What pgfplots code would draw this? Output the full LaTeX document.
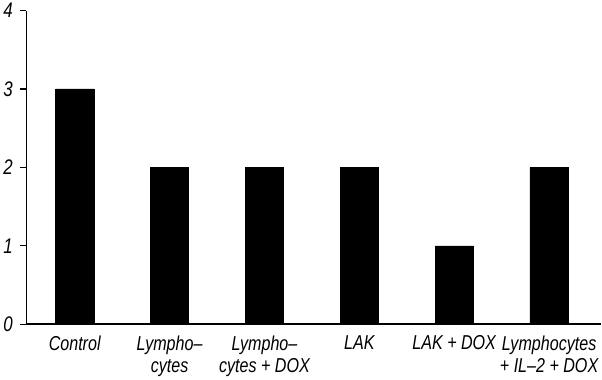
\documentclass[border=0pt]{standalone}
\usepackage{fontspec}
\usepackage{pgfplots}
\pgfplotsset{compat=1.18}
\newfontfamily\condit{Liberation Sans}[FakeStretch=0.8]
\begin{document}
\begin{tikzpicture}
\begin{axis}[
  scale only axis,
  width=572bp, height=312bp,
  axis lines*=left,
  axis line style={line width=1.5bp},
  xmin=-0.51, xmax=5.55,
  ymin=0, ymax=4,
  ytick={0,1,2,3,4},
  xtick={0,1,2,3,4,5},
  xticklabels={Control,{Lympho–\\cytes},{Lympho–\\cytes + DOX},LAK,LAK + DOX,{Lymphocytes\\+ IL–2 + DOX}},
  x tick label style={font=\fontsize{20bp}{22bp}\selectfont\condit\itshape, align=center, yshift=-2bp},
  y tick label style={font=\fontsize{21bp}{22bp}\selectfont\condit\itshape, xshift=-4bp},
  /pgf/number format/assume math mode=true,
  major x tick style={draw=none},
  major y tick style={line width=1.2bp, black},
  tick align=outside,
  major tick length=6bp,
  ybar, bar width=38bp,
  bar shift=0pt,
]
\addplot[fill=black, draw=black] coordinates {(0,3) (1,2) (2,2) (3,2) (4,1) (5,2)};
\end{axis}
\end{tikzpicture}
\end{document}
